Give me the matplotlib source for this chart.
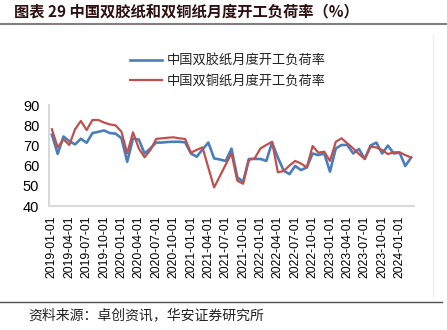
import matplotlib
matplotlib.use('Agg')
import matplotlib.pyplot as plt
from matplotlib.lines import Line2D
import numpy as np
import pandas as pd

# monthly data, 2019-01 .. 2024-03
months = pd.date_range('2019-01-01', '2024-03-01', freq='MS')

offset_rate = [75.3, 65.8, 74.4, 72.1, 70.5, 73.3, 71.3, 76.1, 76.7, 77.4,
               76.1, 75.8, 73.6, 61.9, 73.4, 72.9, 66.0, 68.5, 71.4, 71.4,
               71.7, 71.8, 71.8, 71.5, 66.0, 64.4, 68.0, 71.4, 63.6, 63.0,
               62.3, 68.4, 54.2, 52.0, 63.3, 63.3, 63.3, 62.3, 71.4, 64.0,
               57.5, 55.8, 59.8, 57.8, 59.1, 66.0, 65.2, 66.0, 57.0, 68.5,
               70.2, 70.2, 66.0, 68.2, 63.3, 69.9, 71.4, 66.0, 69.9, 66.0,
               66.4, 59.8, 64.0]
coated_rate = [78.0, 69.0, 73.0, 70.2, 78.0, 82.1, 77.6, 82.6, 82.6, 81.3,
               80.4, 79.9, 76.8, 66.1, 76.5, 68.5, 64.1, 67.7, 73.2, 73.5,
               73.8, 74.0, 73.5, 73.2, 66.4, 67.8, 69.0, 59.0, 49.2, 54.8,
               60.5, 66.0, 52.5, 51.0, 62.8, 63.6, 68.5, 70.2, 71.8, 56.7,
               57.3, 60.0, 62.3, 61.0, 59.1, 69.7, 66.4, 66.9, 62.3, 71.8,
               73.5, 71.0, 68.5, 65.7, 63.3, 69.4, 69.0, 67.7, 65.7, 66.6,
               66.6, 65.2, 64.0]
labels = ['中国双胶纸月度开工负荷率', '中国双铜纸月度开工负荷率']
yticks = [40, 50, 60, 70, 80, 90]

cjk = ['Noto Sans CJK SC', 'DejaVu Sans']
plt.rcParams['font.family'] = ['Liberation Sans', 'DejaVu Sans']

fig = plt.figure(figsize=(4.47, 3.3), dpi=100)
ax = fig.add_axes([49 / 447, 1 - 206 / 330, 365 / 447, 101 / 330])

x = np.arange(len(months))
ax.plot(x, offset_rate, color='#4a7ebb', lw=1.9, label=labels[0])
ax.plot(x, coated_rate, color='#c0504d', lw=1.6, label=labels[1])

ax.set_ylim(40, 90)
ax.set_yticks(yticks)
ax.set_xlim(-0.5, len(months) - 0.5)
tick_idx = x[::3]
ax.set_xticks(tick_idx)
ax.set_xticklabels([months[i].strftime('%Y-%m-%d') for i in tick_idx],
                   rotation=90, fontsize=8.8)
ax.tick_params(axis='y', labelsize=10.5, length=0, pad=7)
ax.tick_params(axis='x', length=0, pad=7)

for s in ['top', 'right']:
    ax.spines[s].set_visible(False)
for s in ['left', 'bottom']:
    ax.spines[s].set_color('#d9d9d9')
    ax.spines[s].set_linewidth(1.5)

leg = fig.legend(loc='upper left', bbox_to_anchor=(118 / 447, 1 - 43 / 330),
                 frameon=False, prop={'family': cjk, 'size': 9.5},
                 handlelength=2.4, handletextpad=0.4, labelspacing=0.5)
for t in leg.get_texts():
    t.set_color('#222222')

# title and separator lines
fig.text(14 / 447, 1 - 11.5 / 330, '图表 29 中国双胶纸和双铜纸月度开工负荷率（%）',
         family=cjk, fontsize=11, fontweight='bold', color='#2e1010',
         va='center', ha='left')
fig.add_artist(Line2D([0, 1], [1 - 24 / 330] * 2, color='#808080', lw=1.5))
fig.add_artist(Line2D([433 / 447] * 2, [1 - 35 / 330, 1 - 298 / 330],
                      color='#ececec', lw=0.8))
fig.add_artist(Line2D([0, 442 / 447], [1 - 302 / 330] * 2, color='#505050', lw=1.0))
fig.text(28 / 447, 1 - 315 / 330, '资料来源：卓创资讯，华安证券研究所',
         family=cjk, fontsize=10, color='#222222', va='center', ha='left')

fig.savefig('out.png', dpi=100)
